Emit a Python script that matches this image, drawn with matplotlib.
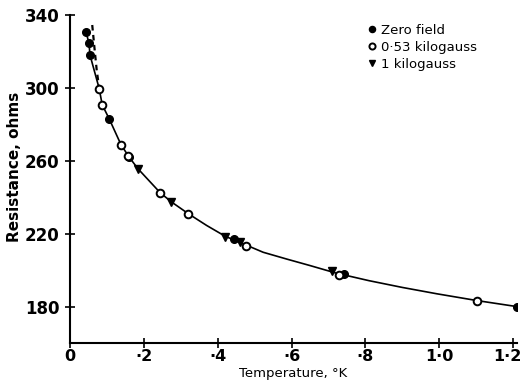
"""
Resistance against temperature at three magnetic fields,
redrawn from an old scanned figure.
"""

import matplotlib
matplotlib.use("Agg")
import matplotlib.pyplot as plt
import matplotlib.transforms as mtransforms

# zero field (filled circles)
zero_T = [0.043, 0.051, 0.054, 0.106, 0.160, 0.445, 0.742, 1.21]
zero_R = [330.7, 324.7, 318.0, 283.0, 262.0, 217.0, 197.8, 180.0]

# 0.53 kilogauss (open circles)
half_T = [0.079, 0.087, 0.138, 0.157, 0.244, 0.320, 0.477, 0.729, 1.102]
half_R = [299.5, 290.7, 268.8, 262.8, 242.5, 231.0, 213.0, 197.5, 183.3]

# 1 kilogauss (triangles)
one_T = [0.184, 0.274, 0.420, 0.460, 0.710]
one_R = [255.6, 237.5, 218.4, 215.6, 199.7]

# smooth curve drawn through the points
curve_T = [0.043, 0.051, 0.054, 0.079, 0.087, 0.106, 0.138, 0.160, 0.184,
           0.244, 0.274, 0.320, 0.370, 0.420, 0.460, 0.523, 0.588, 0.650,
           0.720, 0.810, 0.900, 0.994, 1.102, 1.21]
curve_R = [330.7, 324.7, 318.0, 299.5, 290.7, 283.0, 268.8, 262.0, 255.6,
           242.5, 237.5, 231.0, 224.5, 218.6, 215.2, 209.8, 206.0, 202.5,
           198.4, 194.2, 190.5, 187.0, 183.3, 180.0]

# dashed branch at the lowest temperatures
dash_T = [0.060, 0.066, 0.072, 0.079]
dash_R = [334.5, 322.0, 310.0, 299.5]

x_ticks = [0, 0.2, 0.4, 0.6, 0.8, 1.0, 1.2]
x_labels = ["0", "·2", "·4", "·6", "·8", "1·0", "1·2"]
y_ticks = [180, 220, 260, 300, 340]
y_labels = ["180", "220", "260", "300", "340"]

plt.rcParams['font.family'] = ['DejaVu Sans']

fig = plt.figure(figsize=(5.23, 3.81), dpi=100)
ax = fig.add_axes([0.134, 0.0997, 0.854, 0.861])

ax.plot(curve_T, curve_R, color='black', lw=1.2, zorder=1)
ax.plot(dash_T, dash_R, color='black', lw=1.6, ls=(0, (2.5, 2)), zorder=1)

ax.plot(zero_T, zero_R, 'o', color='black', ms=5.5, zorder=3,
        label='Zero field')
ax.plot(half_T, half_R, 'o', mfc='white', mec='black', mew=1.4, ms=5.5,
        zorder=3, label='0·53 kilogauss')
ax.plot(one_T, one_R, 'v', color='black', ms=5.5, zorder=3,
        label='1 kilogauss')

ax.set_xlim(0, 1.21)
ax.set_ylim(160, 340)
ax.set_xticks(x_ticks)
ax.set_xticklabels(x_labels, fontsize=11.5, fontweight='bold')
ax.set_yticks(y_ticks)
ax.set_yticklabels(y_labels, fontsize=12, fontweight='bold')
ax.tick_params(direction='inout', length=7, width=1.2, pad=4)
ax.tick_params(axis='x', pad=1)
for side in ['top', 'right']:
    ax.spines[side].set_visible(False)
for side in ['left', 'bottom']:
    ax.spines[side].set_linewidth(1.5)

# last x label sits a bit left of its tick so it stays in the picture
last = ax.get_xticklabels()[-1]
last.set_transform(last.get_transform() +
                   mtransforms.ScaledTranslation(-6 / 100, 0, fig.dpi_scale_trans))

ax.set_xlabel('Temperature, °K', fontsize=9.5)
ax.xaxis.set_label_coords(0.5, -0.073)
ax.set_ylabel('Resistance, ohms', fontsize=11, fontweight='bold')
ax.yaxis.set_label_coords(-0.107, 0.537)

leg = ax.legend(loc='upper left', bbox_to_anchor=(0.667, 0.973), frameon=False,
                borderpad=0, borderaxespad=0,
                handlelength=0.6, handletextpad=0.35, labelspacing=0.3,
                fontsize=9.5, markerscale=0.8)

fig.savefig('out.png', dpi=100)
